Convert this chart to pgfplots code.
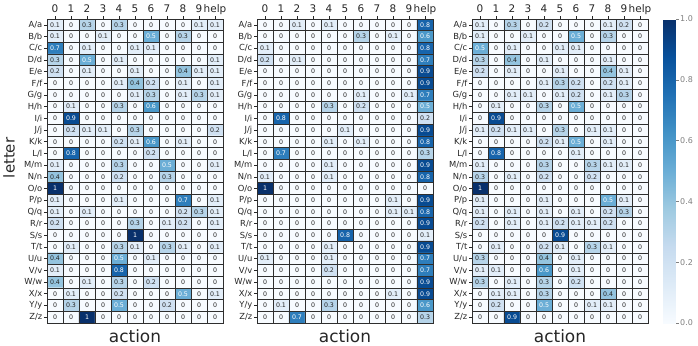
\documentclass[border=0pt]{standalone}
\usepackage{pgfplots}
\pgfplotsset{compat=1.18}
\usepackage{pgfplotstable}
\usepackage{fontspec}
\setmainfont{DejaVu Sans}
\definecolor{txt}{HTML}{262626}
\definecolor{gridc}{HTML}{2E2E2E}
\pgfplotsset{
  colormap={blues}{rgb255(0)=(247,251,255) rgb255(1)=(222,235,247) rgb255(2)=(198,219,239) rgb255(3)=(158,202,225) rgb255(4)=(107,174,214) rgb255(5)=(66,146,198) rgb255(6)=(33,113,181) rgb255(7)=(8,81,156) rgb255(8)=(8,48,107)},
  hm/.style={
    scale only axis, width=176bp, height=304bp,
    anchor=north west,
    xmin=-0.5, xmax=10.5, ymin=-0.5, ymax=25.5, y dir=reverse,
    enlargelimits=false,
    xtick={0,...,10}, xticklabels={0,1,2,3,4,5,6,7,8,9,help},
    ytick={0,...,25},
    yticklabels={A/a,B/b,C/c,D/d,E/e,F/f,G/g,H/h,I/i,J/j,K/k,L/l,M/m,N/n,O/o,P/p,Q/q,R/r,S/s,T/t,U/u,V/v,W/w,X/x,Y/y,Z/z},
    xtick pos=upper, xticklabel pos=upper, ytick pos=left,
    tick align=outside, major tick length=3bp,
    major tick style={txt, line width=0.6bp},
    xticklabel style={font=\fontsize{10.5}{12}\selectfont, text=txt, inner sep=1bp, text depth=0.25em},
    yticklabel style={font=\fontsize{8.4}{10}\selectfont, text=txt, inner sep=1.5bp},
    minor xtick={-0.5,0.5,...,10.5}, minor ytick={-0.5,0.5,...,25.5},
    minor tick length=0pt,
    xminorgrids, yminorgrids,
    minor grid style={gridc, line width=0.7bp},
    axis line style={gridc, line width=0.7bp},
    axis on top,
    colormap name=blues, point meta min=0, point meta max=1,
    xlabel={action},
    xlabel style={font=\fontsize{17}{20}\selectfont, text=txt, at={(axis description cs:0.5,0)}, anchor=base, yshift=-19.5bp},
  },
  hmplot/.style={matrix plot*, mesh/cols=11, point meta=explicit},
  lbl/.style={only marks, mark=none, point meta=explicit,
    nodes near coords={\pgfmathprintnumber{\pgfplotspointmeta}},
    nodes near coords style={anchor=center, inner sep=0pt, font=\fontsize{6.3}{7}\selectfont,
      /pgf/number format/assume math mode=true},
  },
  lo/.style={lbl, restrict expr to domain={\thisrow{v}}{-1:0.45}, nodes near coords style={text=txt}},
  hi/.style={lbl, restrict expr to domain={\thisrow{v}}{0.45:2}, nodes near coords style={text=white}},
}
\pgfplotstableread[row sep=\\]{
v\\
0.1\\0\\0.3\\0\\0.3\\0\\0\\0\\0\\0.1\\0.1\\
0.1\\0\\0\\0.1\\0\\0\\0.5\\0\\0.3\\0\\0\\
0.7\\0\\0.1\\0\\0\\0.1\\0.1\\0\\0\\0\\0\\
0.3\\0\\0.5\\0\\0.1\\0\\0\\0\\0\\0\\0.1\\
0.2\\0\\0.1\\0\\0\\0.1\\0\\0\\0.4\\0.1\\0.1\\
0\\0\\0\\0\\0.1\\0.4\\0.2\\0\\0.1\\0\\0.1\\
0\\0\\0\\0\\0\\0.1\\0.3\\0\\0.1\\0.3\\0.1\\
0\\0.1\\0\\0\\0.3\\0\\0.6\\0\\0\\0\\0\\
0\\0.9\\0\\0\\0\\0\\0\\0\\0\\0\\0\\
0\\0.2\\0.1\\0.1\\0\\0.3\\0\\0\\0\\0\\0.2\\
0\\0\\0\\0\\0.2\\0.1\\0.6\\0\\0.1\\0\\0\\
0\\0.8\\0\\0\\0\\0\\0.2\\0\\0\\0\\0\\
0.1\\0\\0\\0\\0.3\\0\\0\\0.5\\0\\0\\0.1\\
0.4\\0\\0\\0\\0.2\\0\\0\\0.3\\0\\0\\0\\
1\\0\\0\\0\\0\\0\\0\\0\\0\\0\\0\\
0.1\\0\\0\\0\\0.1\\0\\0\\0\\0.7\\0\\0.1\\
0.1\\0\\0.1\\0\\0\\0\\0\\0\\0.2\\0.3\\0.1\\
0.2\\0\\0\\0\\0\\0.3\\0\\0.1\\0.2\\0\\0.1\\
0\\0\\0\\0\\0\\1\\0\\0\\0\\0\\0\\
0\\0.1\\0\\0\\0.3\\0.1\\0\\0.3\\0.1\\0\\0.1\\
0.4\\0\\0\\0\\0.5\\0\\0.1\\0\\0\\0\\0\\
0.1\\0\\0\\0\\0.8\\0\\0\\0\\0\\0\\0\\
0.4\\0\\0.1\\0\\0.3\\0\\0.2\\0\\0\\0\\0\\
0\\0.1\\0\\0\\0.2\\0\\0\\0\\0.5\\0\\0.1\\
0\\0.3\\0\\0\\0.5\\0\\0\\0.2\\0\\0\\0\\
0\\0\\1\\0\\0\\0\\0\\0\\0\\0\\0\\
}\hmA
\pgfplotstableread[row sep=\\]{
v\\
0\\0\\0.1\\0\\0.1\\0\\0\\0\\0\\0\\0.8\\
0\\0\\0\\0\\0\\0\\0.3\\0\\0.1\\0\\0.6\\
0.1\\0\\0\\0\\0\\0\\0\\0\\0\\0\\0.8\\
0.2\\0\\0.1\\0\\0\\0\\0\\0\\0\\0\\0.7\\
0\\0\\0\\0\\0\\0\\0\\0\\0\\0\\0.9\\
0\\0\\0\\0\\0\\0\\0\\0\\0\\0\\0.9\\
0\\0\\0\\0\\0\\0\\0.1\\0\\0\\0.1\\0.7\\
0\\0\\0\\0\\0.3\\0\\0.2\\0\\0\\0\\0.5\\
0\\0.8\\0\\0\\0\\0\\0\\0\\0\\0\\0.2\\
0\\0\\0\\0\\0\\0.1\\0\\0\\0\\0\\0.9\\
0\\0\\0\\0\\0.1\\0\\0.1\\0\\0\\0\\0.8\\
0\\0.7\\0\\0\\0\\0\\0\\0\\0\\0\\0.3\\
0\\0\\0\\0\\0.1\\0\\0\\0\\0\\0\\0.9\\
0.1\\0\\0\\0\\0.1\\0\\0\\0\\0\\0\\0.8\\
1\\0\\0\\0\\0\\0\\0\\0\\0\\0\\0\\
0\\0\\0\\0\\0\\0\\0\\0\\0.1\\0\\0.9\\
0\\0\\0\\0\\0\\0\\0\\0\\0.1\\0.1\\0.8\\
0\\0\\0\\0\\0\\0\\0\\0\\0\\0\\0.9\\
0\\0\\0\\0\\0\\0.8\\0\\0\\0\\0\\0.1\\
0\\0\\0\\0\\0.1\\0\\0\\0\\0\\0\\0.9\\
0.1\\0\\0\\0\\0.1\\0\\0\\0\\0\\0\\0.7\\
0\\0\\0\\0\\0.2\\0\\0\\0\\0\\0\\0.7\\
0\\0\\0\\0\\0\\0\\0\\0\\0\\0\\0.9\\
0\\0\\0\\0\\0\\0\\0\\0\\0.1\\0\\0.9\\
0\\0.1\\0\\0\\0.3\\0\\0\\0\\0\\0\\0.6\\
0\\0\\0.7\\0\\0\\0\\0\\0\\0\\0\\0.3\\
}\hmB
\pgfplotstableread[row sep=\\]{
v\\
0.1\\0\\0.3\\0\\0.2\\0\\0\\0\\0.1\\0.2\\0\\
0.1\\0\\0\\0.1\\0\\0\\0.5\\0\\0.3\\0\\0\\
0.5\\0\\0.1\\0\\0\\0.1\\0.1\\0\\0\\0\\0\\
0.3\\0\\0.4\\0\\0.1\\0\\0\\0\\0.1\\0\\0\\
0.2\\0\\0.1\\0\\0\\0.1\\0\\0\\0.4\\0.1\\0\\
0\\0\\0\\0\\0.1\\0.3\\0.2\\0\\0.2\\0.1\\0\\
0\\0\\0.1\\0.1\\0\\0.1\\0.2\\0\\0.1\\0.3\\0\\
0\\0.1\\0\\0\\0.3\\0\\0.5\\0\\0\\0\\0\\
0\\0.9\\0\\0\\0\\0\\0\\0\\0\\0\\0\\
0.1\\0.2\\0.1\\0.1\\0\\0.3\\0\\0.1\\0.1\\0\\0\\
0\\0\\0\\0\\0.2\\0.1\\0.5\\0\\0.1\\0\\0\\
0\\0.8\\0\\0\\0\\0\\0.1\\0\\0\\0\\0\\
0.1\\0\\0\\0\\0.3\\0\\0\\0.3\\0.1\\0.1\\0\\
0.3\\0\\0.1\\0\\0.2\\0\\0\\0.2\\0\\0\\0\\
1\\0\\0\\0\\0\\0\\0\\0\\0\\0\\0\\
0.1\\0\\0\\0\\0.1\\0\\0\\0\\0.5\\0.1\\0\\
0.1\\0\\0.1\\0\\0.1\\0\\0.1\\0\\0.2\\0.3\\0\\
0.2\\0\\0.1\\0\\0.1\\0.2\\0.1\\0.1\\0.2\\0\\0\\
0\\0\\0\\0\\0\\0.9\\0\\0\\0\\0\\0\\
0\\0.1\\0\\0\\0.2\\0.1\\0\\0.3\\0.1\\0\\0\\
0.3\\0\\0\\0\\0.4\\0\\0.1\\0\\0\\0\\0\\
0.1\\0.1\\0\\0\\0.6\\0\\0.1\\0\\0\\0\\0\\
0.3\\0\\0.1\\0\\0.3\\0\\0.2\\0\\0\\0\\0\\
0\\0.1\\0.1\\0\\0.3\\0\\0\\0\\0.4\\0\\0\\
0\\0.2\\0\\0\\0.5\\0\\0\\0.1\\0.1\\0\\0\\
0\\0\\0.9\\0\\0\\0\\0\\0\\0\\0\\0\\
}\hmC
\begin{document}
\begin{tikzpicture}
\useasboundingbox (0,0) rectangle (698bp,-346bp);
\begin{axis}[hm, at={(47bp,-19bp)},
  ylabel={letter},
  ylabel style={font=\fontsize{15}{18}\selectfont, text=txt, at={(axis description cs:-0.216,0.543)}, anchor=center}]
\addplot[hmplot] table[x index=0, y index=0, x expr={\coordindex-11*floor((\coordindex+0.5)/11)}, y expr={floor((\coordindex+0.5)/11)}, meta=v] {\hmA};
\addplot[lo] table[x index=0, y index=0, x expr={\coordindex-11*floor((\coordindex+0.5)/11)}, y expr={floor((\coordindex+0.5)/11)}, meta=v] {\hmA};
\addplot[hi] table[x index=0, y index=0, x expr={\coordindex-11*floor((\coordindex+0.5)/11)}, y expr={floor((\coordindex+0.5)/11)}, meta=v] {\hmA};
\end{axis}
\begin{axis}[hm, at={(257bp,-19bp)}]
\addplot[hmplot] table[x index=0, y index=0, x expr={\coordindex-11*floor((\coordindex+0.5)/11)}, y expr={floor((\coordindex+0.5)/11)}, meta=v] {\hmB};
\addplot[lo] table[x index=0, y index=0, x expr={\coordindex-11*floor((\coordindex+0.5)/11)}, y expr={floor((\coordindex+0.5)/11)}, meta=v] {\hmB};
\addplot[hi] table[x index=0, y index=0, x expr={\coordindex-11*floor((\coordindex+0.5)/11)}, y expr={floor((\coordindex+0.5)/11)}, meta=v] {\hmB};
\end{axis}
\begin{axis}[hm, at={(472bp,-19bp)},
  colorbar,
  colorbar shift/.style={},
  colorbar style={
    at={(parent axis.north east)}, anchor=north west, xshift=15bp,
    scale only axis, width=12.5bp, height=304bp,
    ytick={0,0.2,0.4,0.6,0.8,1},
    yticklabel pos=right, ytick pos=right,
    tick align=outside, major tick length=3bp,
    major tick style={gray, line width=0.5bp},
    axis line style={draw=none},
    yticklabel style={font=\fontsize{8}{9}\selectfont, text=gray, inner sep=1.5bp,
      /pgf/number format/.cd, fixed, fixed zerofill, precision=1, assume math mode=true},
  }]
\addplot[hmplot] table[x index=0, y index=0, x expr={\coordindex-11*floor((\coordindex+0.5)/11)}, y expr={floor((\coordindex+0.5)/11)}, meta=v] {\hmC};
\addplot[lo] table[x index=0, y index=0, x expr={\coordindex-11*floor((\coordindex+0.5)/11)}, y expr={floor((\coordindex+0.5)/11)}, meta=v] {\hmC};
\addplot[hi] table[x index=0, y index=0, x expr={\coordindex-11*floor((\coordindex+0.5)/11)}, y expr={floor((\coordindex+0.5)/11)}, meta=v] {\hmC};
\end{axis}
\end{tikzpicture}
\end{document}
